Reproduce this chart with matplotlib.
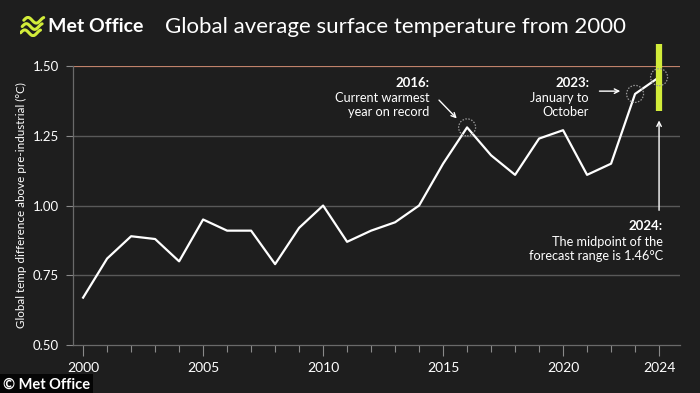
import matplotlib.pyplot as plt
import numpy as np

plt.rcParams['font.family'] = ['Lato', 'DejaVu Sans']

BG = '#1e1e1e'
LIME = '#d2ec3a'

years = list(range(2000, 2025))
temps = [0.67, 0.81, 0.89, 0.88, 0.80, 0.95, 0.91, 0.91, 0.79, 0.92,
         1.00, 0.87, 0.91, 0.94, 1.00, 1.15, 1.28, 1.18, 1.11, 1.24,
         1.27, 1.11, 1.15, 1.40, 1.46]
y_ticks = [0.50, 0.75, 1.00, 1.25, 1.50]
x_ticks = [2000, 2005, 2010, 2015, 2020, 2024]
limit = 1.50
range_2024 = (1.34, 1.58)
marked_years = [2016, 2023, 2024]

fig = plt.figure(figsize=(7, 3.93), dpi=100, facecolor=BG)
ax = fig.add_axes([0.104, 0.122, 0.867, 0.710])
ax.set_facecolor(BG)

# grid + 1.5 limit
for v in y_ticks[1:-1]:
    ax.axhline(v, color='#595959', lw=1, zorder=1)
ax.axhline(limit, color='#c0826a', lw=1.6, zorder=2)

ax.plot(years, temps, color='white', lw=1.6, zorder=4)

# forecast range bar for 2024
ax.plot([2024, 2024], range_2024, color=LIME, lw=4.5, solid_capstyle='butt',
        zorder=5, clip_on=False)

# dotted circles round the key points
mx = [years[years.index(y)] for y in marked_years]
my = [temps[years.index(y)] for y in marked_years]
ax.scatter(mx, my, s=150, facecolors='none', edgecolors='#9a9a9a',
           linewidths=0.9, linestyles=(0, (1.2, 1.2)), zorder=6, clip_on=False)

ax.set_xlim(1999.57, 2024.86)
ax.set_ylim(0.5, 1.5)
ax.set_yticks(y_ticks)
ax.set_yticklabels([f'{v:.2f}' for v in y_ticks])
ax.set_xticks(x_ticks)
ax.set_xticks(years, minor=True)
ax.tick_params(axis='y', colors='#8a8a8a', labelcolor='white', labelsize=9.5,
               length=5, width=0.8, pad=5)
ax.tick_params(axis='x', which='major', colors='#8a8a8a', labelcolor='white',
               labelsize=10, length=8, width=0.8, pad=4)
ax.tick_params(axis='x', which='minor', colors='#8a8a8a', length=5, width=0.8)
for s in ['top', 'right']:
    ax.spines[s].set_visible(False)
for s in ['left', 'bottom']:
    ax.spines[s].set_color('#6a6a6a')
    ax.spines[s].set_linewidth(0.9)

ax.set_ylabel('Global temp difference above pre-industrial (°C)', color='white',
              fontsize=8.4, labelpad=4)

# annotations
arrow = dict(arrowstyle='->', color='white', lw=1.0, mutation_scale=8)
ax.text(2014.42, 1.439, '2016:', color='white', fontsize=9.5, weight='bold',
        ha='right', va='center')
ax.text(2014.42, 1.36, 'Current warmest\nyear on record', color='white',
        fontsize=9.2, ha='right', va='center', linespacing=1.25)
ax.annotate('', xy=(2015.65, 1.305), xytext=(2014.75, 1.385), arrowprops=arrow,
            annotation_clip=False)

ax.text(2021.08, 1.439, '2023:', color='white', fontsize=9.5, weight='bold',
        ha='right', va='center')
ax.text(2021.08, 1.36, 'January to\nOctober', color='white',
        fontsize=9.2, ha='right', va='center', linespacing=1.25)
ax.annotate('', xy=(2022.5, 1.41), xytext=(2021.4, 1.41), arrowprops=arrow)

ax.text(2024.15, 0.927, '2024:', color='white', fontsize=9.5, weight='bold',
        ha='right', va='center')
ax.text(2024.15, 0.845, 'The midpoint of the\nforecast range is 1.46°C',
        color='white', fontsize=9.2, ha='right', va='center', linespacing=1.25)
ax.annotate('', xy=(2024, 1.315), xytext=(2024, 0.973), arrowprops=arrow)

# header
fig.text(0.236, 0.932, 'Global average surface temperature from 2000',
         color='white', fontsize=16, ha='left', va='center')
fig.text(0.068, 0.932, 'Met Office', color='white', fontsize=14,
         weight='bold', ha='left', va='center')
logo = fig.add_axes([0.028, 0.905, 0.037, 0.055])
logo.set_axis_off()
t = np.linspace(0, 1, 40)
for k in range(3):
    logo.plot(t + 0.08 * k, 0.25 * np.sin(2 * np.pi * t * 1.2) + k * 0.55,
              color=LIME, lw=2.2, solid_capstyle='round')
logo.set_xlim(-0.05, 1.25)
logo.set_ylim(-0.4, 1.5)

fig.text(0.004, 0.022, '© Met Office', color='white', fontsize=10.5,
         weight='bold', ha='left', va='center',
         bbox=dict(facecolor='#050505', edgecolor='none', pad=2.5))

fig.savefig('out.png', dpi=100, facecolor=BG)
